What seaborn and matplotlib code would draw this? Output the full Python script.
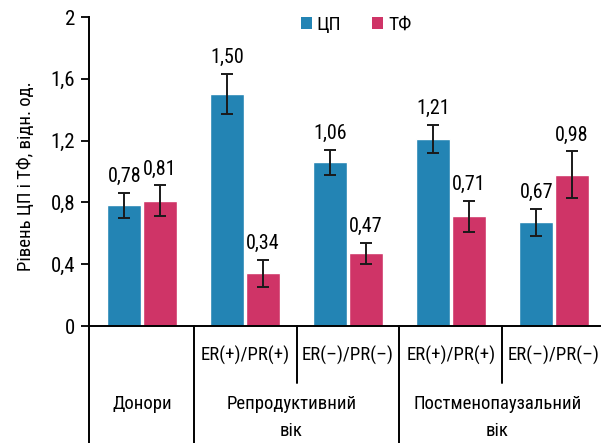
import matplotlib
matplotlib.use("Agg")
import matplotlib.pyplot as plt
import matplotlib.transforms as mtransforms
from matplotlib.patches import Patch
import numpy as np
import pandas as pd
import seaborn as sns

# Categories (one bar pair per slot)
slots = ["Донори", "Реп ER+/PR+", "Реп ER-/PR-", "Пост ER+/PR+", "Пост ER-/PR-"]
receptor_labels = ["", "ER(+)/PR(+)", "ER(–)/PR(–)", "ER(+)/PR(+)", "ER(–)/PR(–)"]
age_groups = ["Донори", "Репродуктивний\nвік", "Постменопаузальний\nвік"]
age_centers = [0, 1.45, 3.45]

series = ["ЦП", "ТФ"]
cp_values = [0.78, 1.50, 1.06, 1.21, 0.67]
tf_values = [0.81, 0.34, 0.47, 0.71, 0.98]
cp_err = [0.08, 0.13, 0.08, 0.09, 0.09]
tf_err = [0.10, 0.09, 0.07, 0.10, 0.15]

yticks = [0, 0.4, 0.8, 1.2, 1.6, 2.0]
ytick_labels = ["0", "0,4", "0,8", "1,2", "1,6", "2"]

colors = {"ЦП": "#2384b4", "ТФ": "#cf3467"}

df = pd.DataFrame({
    "slot": slots * 2,
    "series": ["ЦП"] * 5 + ["ТФ"] * 5,
    "value": cp_values + tf_values,
})
errs = {"ЦП": cp_err, "ТФ": tf_err}

sns.set_style("ticks")
plt.rcParams["font.family"] = ["Roboto Condensed", "Liberation Sans Narrow", "DejaVu Sans"]
plt.rcParams["font.stretch"] = "condensed"
plt.rcParams["text.color"] = "black"
plt.rcParams["axes.labelcolor"] = "black"
plt.rcParams["ytick.color"] = "black"

fig = plt.figure(figsize=(6.06, 4.43), dpi=100)
ax = fig.add_axes([89 / 606, 1 - 326 / 443, 511 / 606, 309 / 443])

sns.barplot(data=df, x="slot", y="value", hue="series", order=slots,
            hue_order=series, palette=colors, width=0.69, gap=0.04,
            errorbar=None, legend=False, ax=ax, saturation=1)

for cont, name in zip(ax.containers, series):
    for bar, val, err in zip(cont, df.loc[df.series == name, "value"], errs[name]):
        cx = bar.get_x() + bar.get_width() / 2
        ax.errorbar(cx, val, yerr=err, fmt="none", ecolor="#1a1a1a",
                    elinewidth=1.4, capsize=4, capthick=1.4, zorder=5)
        ax.annotate(f"{val:.2f}".replace(".", ","), (cx, val + err),
                    xytext=(0, 5), textcoords="offset points",
                    ha="center", va="bottom", fontsize=14.5)

ax.set_ylim(0, 2)
ax.set_xlim(-0.515, 4.447)
ax.set_yticks(yticks)
ax.set_yticklabels(ytick_labels, fontsize=15)
ax.set_xticks([])
ax.set_xlabel("")
ax.set_ylabel("Рівень ЦП і ТФ, відн. од.", fontsize=13.5)
ax.yaxis.set_label_coords(-0.105, 0.485)
ax.tick_params(axis="y", length=6, width=1.3, color="black", pad=4)
for side in ["top", "right"]:
    ax.spines[side].set_visible(False)
for side in ["left", "bottom"]:
    ax.spines[side].set_color("black")
    ax.spines[side].set_linewidth(1.4)

# Category table beneath the axis
trans = mtransforms.blended_transform_factory(ax.transData, ax.transAxes)
line_kw = dict(color="black", lw=1.4, transform=trans, clip_on=False)
ax.plot([-0.515, -0.515], [0, -0.5], **line_kw)
for xs in [0.5, 2.5]:
    ax.plot([xs, xs], [0, -0.5], **line_kw)
for xs in [1.5, 3.5]:
    ax.plot([xs, xs], [0, -0.185], **line_kw)

for i, lab in enumerate(receptor_labels):
    if lab:
        ax.text(i, -0.095, lab, transform=trans, ha="center", va="center",
                fontsize=13.5)
for lab, xc in zip(age_groups, age_centers):
    ax.text(xc, -0.222, lab, transform=trans, ha="center", va="top",
            fontsize=13.5, linespacing=1.65)

handles = [Patch(facecolor=colors[s], edgecolor="none", label=s) for s in series]
ax.legend(handles=handles, ncol=2, frameon=False, loc="center left",
          bbox_to_anchor=(0.40, 0.975), fontsize=14, handlelength=0.55,
          handleheight=0.55, handletextpad=0.25, columnspacing=1.6,
          borderaxespad=0)

fig.savefig("out.png", dpi=100)
